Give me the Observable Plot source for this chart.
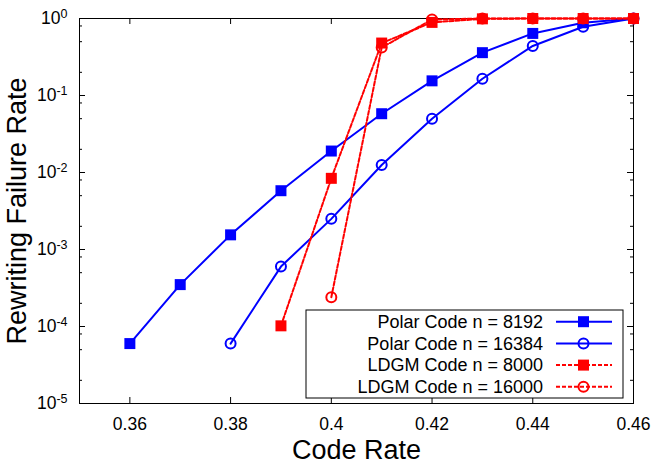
<!DOCTYPE html>
<html><head><meta charset="utf-8">
<script src="https://cdn.jsdelivr.net/npm/d3@7"></script>
<script src="https://cdn.jsdelivr.net/npm/@observablehq/plot@0.6"></script>
<style>
body{margin:0;background:#fff}
svg{font-family:"Liberation Sans",Arial,sans-serif}
</style>
</head><body><div id="chart"></div>
<script>
// ---- data ----
const xTicks = [0.36, 0.38, 0.40, 0.42, 0.44, 0.46];
const yTicks = [1e-5, 1e-4, 1e-3, 1e-2, 1e-1, 1];
const minorMultipliers = [2, 5, 8];

const seriesNames = ["Polar Code n = 8192", "Polar Code n = 16384", "LDGM Code n = 8000", "LDGM Code n = 16000"];

const polar8192Rate = [0.36, 0.37, 0.38, 0.39, 0.40, 0.41, 0.42, 0.43, 0.44, 0.45, 0.46];
const polar8192Fail = [6e-5, 3.5e-4, 1.55e-3, 5.8e-3, 0.019, 0.058, 0.155, 0.36, 0.64, 0.88, 1.0];

const polar16384Rate = [0.38, 0.39, 0.40, 0.41, 0.42, 0.43, 0.44, 0.45, 0.46];
const polar16384Fail = [6e-5, 6e-4, 2.5e-3, 0.0125, 0.05, 0.165, 0.44, 0.78, 1.0];

const ldgm8000Rate = [0.39, 0.40, 0.41, 0.42, 0.43, 0.44, 0.45, 0.46];
const ldgm8000Fail = [1.02e-4, 8.4e-3, 0.48, 0.89, 0.99, 1.0, 1.0, 1.0];

const ldgm16000Rate = [0.40, 0.41, 0.42, 0.43, 0.44, 0.45, 0.46];
const ldgm16000Fail = [2.4e-4, 0.42, 0.97, 1.0, 1.0, 1.0, 1.0];

// ---- build ----
const zip = (xs, ys) => xs.map((x, i) => ({rate: x, fail: ys[i]}));
const p8192 = zip(polar8192Rate, polar8192Fail);
const p16384 = zip(polar16384Rate, polar16384Fail);
const l8000 = zip(ldgm8000Rate, ldgm8000Fail);
const l16000 = zip(ldgm16000Rate, ldgm16000Fail);
const yMinor = yTicks.slice(0, -1).flatMap(d => minorMultipliers.map(m => d * m));

const W = 656, H = 468, ML = 79, MR = 23, MT = 18, MB = 65;
const PW = W - ML - MR, PH = H - MT - MB;
const BLUE = "#0000ff", RED = "#ff0000";
const DASH = "4,2";

const chart = Plot.plot({
  width: W, height: H,
  marginLeft: ML, marginRight: MR, marginTop: MT, marginBottom: MB,
  style: {fontFamily: '"Liberation Sans", Arial, sans-serif', background: "#fff", color: "#000"},
  x: {domain: [0.35, 0.46]},
  y: {type: "log", domain: [1e-5, 1]},
  marks: [
    Plot.frame({stroke: "#000", strokeWidth: 1}),
    // major ticks (inward, both sides)
    Plot.tickX(xTicks, {x: d => d, insetTop: PH - 6, stroke: "#000"}),
    Plot.tickX(xTicks, {x: d => d, insetBottom: PH - 6, stroke: "#000"}),
    Plot.tickY(yTicks, {y: d => d, insetRight: PW - 6, stroke: "#000"}),
    Plot.tickY(yTicks, {y: d => d, insetLeft: PW - 6, stroke: "#000"}),
    Plot.tickY(yMinor, {y: d => d, insetRight: PW - 3, stroke: "#000"}),
    Plot.tickY(yMinor, {y: d => d, insetLeft: PW - 3, stroke: "#000"}),
    // tick labels
    Plot.axisX(xTicks, {tickSize: 0, tickPadding: 14, fontSize: 17.5, tickFormat: d => String(d), label: null}),
    Plot.axisY(yTicks, {tickSize: 0, tickPadding: 12, fontSize: 17.5, tickFormat: d => "10^" + Math.round(Math.log10(d)), label: null}),
    // axis titles
    Plot.text(["Code Rate"], {text: d => d, frameAnchor: "bottom", dy: 55, lineAnchor: "bottom", textAnchor: "middle", fontSize: 27}),
    Plot.text(["Rewriting Failure Rate"], {text: d => d, frameAnchor: "left", dx: -54, rotate: -90, lineAnchor: "bottom", textAnchor: "middle", fontSize: 27}),
    // series
    Plot.line(p8192, {x: "rate", y: "fail", stroke: BLUE, strokeWidth: 2}),
    Plot.dot(p8192, {x: "rate", y: "fail", symbol: "square", fill: BLUE, r: 6.2}),
    Plot.line(p16384, {x: "rate", y: "fail", stroke: BLUE, strokeWidth: 2}),
    Plot.dot(p16384, {x: "rate", y: "fail", symbol: "circle", fill: "none", stroke: BLUE, strokeWidth: 2, r: 5}),
    Plot.line(l8000, {x: "rate", y: "fail", stroke: RED, strokeWidth: 2, strokeDasharray: DASH}),
    Plot.dot(l8000, {x: "rate", y: "fail", symbol: "square", fill: RED, r: 6.2}),
    Plot.line(l16000, {x: "rate", y: "fail", stroke: RED, strokeWidth: 2, strokeDasharray: DASH}),
    Plot.dot(l16000, {x: "rate", y: "fail", symbol: "circle", fill: "none", stroke: RED, strokeWidth: 2, r: 5})
  ]
});

document.getElementById("chart").appendChild(chart);

// superscript exponents on y tick labels
const svg = d3.select(chart);
svg.selectAll("g[aria-label='y-axis tick label'] text").each(function() {
  const t = d3.select(this);
  const s = this.textContent;
  const m = s.match(/^10\^(-?\d+)$/);
  if (!m) return;
  t.text("10");
  t.append("tspan").attr("dy", "-0.45em").attr("font-size", 12.5).text(m[1]);
});

// legend
const legendStyles = [
  {stroke: BLUE, dash: null, symbol: "square", fill: BLUE},
  {stroke: BLUE, dash: null, symbol: "circle", fill: "none"},
  {stroke: RED, dash: DASH, symbol: "square", fill: RED},
  {stroke: RED, dash: DASH, symbol: "circle", fill: "none"}
];
const lg = svg.append("g").attr("aria-label", "legend");
lg.append("rect").attr("x", 306).attr("y", 310).attr("width", 317).attr("height", 88)
  .attr("fill", "#fff").attr("stroke", "#000").attr("stroke-width", 1);
seriesNames.forEach((name, i) => {
  const y = 321.7 + i * 21.7;
  const st = legendStyles[i];
  lg.append("text").attr("x", 543).attr("y", y).attr("dy", "0.35em").attr("text-anchor", "end")
    .attr("font-size", 18).attr("fill", "#000").text(name);
  lg.append("line").attr("x1", 556).attr("x2", 612).attr("y1", y).attr("y2", y)
    .attr("stroke", st.stroke).attr("stroke-width", 2).attr("stroke-dasharray", st.dash);
  if (st.symbol === "square") {
    lg.append("rect").attr("x", 583.5 - 5.5).attr("y", y - 5.5).attr("width", 11).attr("height", 11).attr("fill", st.fill);
  } else {
    lg.append("circle").attr("cx", 583.5).attr("cy", y).attr("r", 5).attr("fill", "none")
      .attr("stroke", st.stroke).attr("stroke-width", 2);
  }
});
</script>
</body></html>
